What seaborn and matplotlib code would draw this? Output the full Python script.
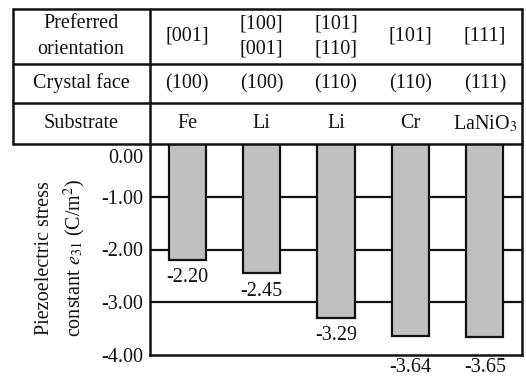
import matplotlib

matplotlib.use("Agg")
import matplotlib.pyplot as plt
import matplotlib.transforms as mtransforms
from matplotlib.lines import Line2D
import pandas as pd
import seaborn as sns

# table rows above the chart
orientation = ["[001]", "[100]\n[001]", "[101]\n[110]", "[101]", "[111]"]
crystal_face = ["(100)", "(100)", "(110)", "(110)", "(111)"]
substrate = ["Fe", "Li", "Li", "Cr", "LaNiO$_3$"]
# piezoelectric stress constant e31 (C/m^2)
e31 = [-2.20, -2.45, -3.29, -3.64, -3.65]
yticks = [0.0, -1.0, -2.0, -3.0, -4.0]

W, H = 526, 380
LINE = "#111111"
BAR = "#c0c0c0"
FS = 14.5

sns.set_style("white")
plt.rcParams["font.family"] = ["Liberation Serif", "DejaVu Serif"]
plt.rcParams["mathtext.fontset"] = "stix"

fig = plt.figure(figsize=(W / 100, H / 100), dpi=100)
ax = fig.add_axes([150 / W, 25 / H, 372 / W, 211 / H])

df = pd.DataFrame({"idx": range(len(e31)), "e31": e31})
for y in yticks[1:-1]:
    ax.axhline(y, color=LINE, linewidth=1.6, zorder=0)
sns.barplot(data=df, x="idx", y="e31", color=BAR, saturation=1, width=0.5,
            edgecolor=LINE, linewidth=1.6, ax=ax, zorder=2)

ax.set_ylim(-4, 0)
ax.set_xlim(-0.5, len(e31) - 0.5)
ax.set_yticks(yticks)
ax.set_yticklabels([f"{t:.2f}" for t in yticks], fontsize=FS)
ax.set_xticks([])
ax.set_xlabel("")
ax.tick_params(axis="y", length=0, pad=5, colors=LINE)
# keep the 0.00 label clear of the table's bottom rule
top_label = ax.get_yticklabels()[0]
top_label.set_transform(top_label.get_transform()
                        + mtransforms.ScaledTranslation(0, -12 / 100, fig.dpi_scale_trans))
for side in ["left", "right", "bottom"]:
    ax.spines[side].set_color(LINE)
    ax.spines[side].set_linewidth(1.8)
ax.spines["top"].set_visible(False)

ax.set_ylabel("Piezoelectric stress\nconstant $e_{31}$ (C/m$^2$)", fontsize=FS,
              linespacing=1.45, color=LINE, multialignment="center")
ax.yaxis.set_label_coords(-0.166, 0.46)

# value labels: under the bar end, or just under the axis when there's no room
for i, v in enumerate(e31):
    if v > -3.5:
        anchor, off = v, -6
    else:
        anchor, off = -4, -2
    ax.annotate(f"{v:.2f}", (i, anchor), xytext=(0, off), textcoords="offset points",
                ha="center", va="top", fontsize=FS, color=LINE, annotation_clip=False)

# header table drawn in figure pixels
def fx(px):
    return px / W


def fy(py):
    return 1 - py / H


for py in [9, 64, 103, 144]:
    fig.add_artist(Line2D([fx(13), fx(522)], [fy(py), fy(py)], color=LINE, linewidth=1.8))
for px in [13, 150, 522]:
    fig.add_artist(Line2D([fx(px), fx(px)], [fy(9), fy(144)], color=LINE, linewidth=1.8))

trans = mtransforms.blended_transform_factory(ax.transData, fig.transFigure)
rows = [(36.5, "Preferred\norientation", orientation),
        (83.5, "Crystal face", crystal_face),
        (123.5, "Substrate", substrate)]
for py, title, values in rows:
    fig.text(fx(81), fy(py), title, ha="center", va="center", fontsize=FS,
             linespacing=1.45, color=LINE)
    for i, txt in enumerate(values):
        ax.text(i, fy(py), txt, transform=trans, ha="center", va="center",
                fontsize=FS, linespacing=1.45, color=LINE, clip_on=False)

fig.savefig("out.png", dpi=100, facecolor="white")
